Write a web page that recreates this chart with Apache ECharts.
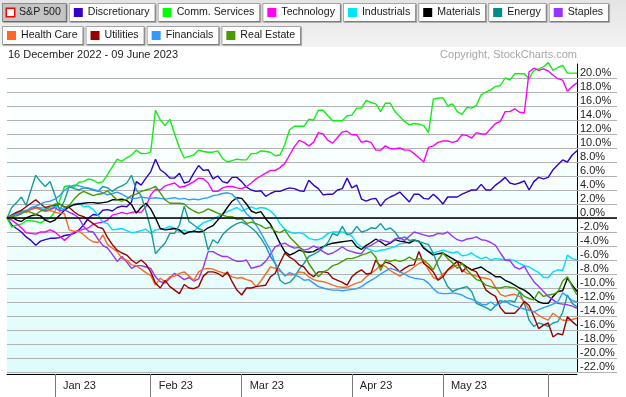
<!DOCTYPE html>
<html>
<head>
<meta charset="utf-8">
<script src="https://cdn.jsdelivr.net/npm/echarts@6/dist/echarts.min.js"></script>
<style>
  html, body { margin: 0; padding: 0; background: #fff; }
  #chart { width: 626px; height: 397px; }
</style>
</head>
<body>
<div id="chart"></div>
<script>
// trading days per month, 16 Dec 2022 - 09 Jun 2023
const dec22 = [16, 19, 20, 21, 22, 23, 27, 28, 29, 30];
const jan23 = [3, 4, 5, 6, 9, 10, 11, 12, 13, 17, 18, 19, 20, 23, 24, 25, 26, 27, 30, 31];
const feb23 = [1, 2, 3, 6, 7, 8, 9, 10, 13, 14, 15, 16, 17, 21, 22, 23, 24, 27, 28];
const mar23 = [1, 2, 3, 6, 7, 8, 9, 10, 13, 14, 15, 16, 17, 20, 21, 22, 23, 24, 27, 28, 29, 30, 31];
const apr23 = [3, 4, 5, 6, 10, 11, 12, 13, 14, 17, 18, 19, 20, 21, 24, 25, 26, 27, 28];
const may23 = [1, 2, 3, 4, 5, 8, 9, 10, 11, 12, 15, 16, 17, 18, 19, 22, 23, 24, 25, 26, 30, 31];
const jun23 = [1, 2, 5, 6, 7, 8, 9];
const monthShort = ['Jan', 'Feb', 'Mar', 'Apr', 'May', 'Jun', 'Jul', 'Aug', 'Sep', 'Oct', 'Nov', 'Dec'];

const yTicks = [-22, -20, -18, -16, -14, -12, -10, -8, -6, -4, -2, 0, 2, 4, 6, 8, 10, 12, 14, 16, 18, 20];

// % performance relative to the S&P 500 (benchmark = 0)
const spx = [
  0, 0, 0, 0, 0, 0, 0, 0, 0, 0, 0, 0, 0, 0, 0, 0, 0, 0, 0, 0,
  0, 0, 0, 0, 0, 0, 0, 0, 0, 0, 0, 0, 0, 0, 0, 0, 0, 0, 0, 0,
  0, 0, 0, 0, 0, 0, 0, 0, 0, 0, 0, 0, 0, 0, 0, 0, 0, 0, 0, 0,
  0, 0, 0, 0, 0, 0, 0, 0, 0, 0, 0, 0, 0, 0, 0, 0, 0, 0, 0, 0,
  0, 0, 0, 0, 0, 0, 0, 0, 0, 0, 0, 0, 0, 0, 0, 0, 0, 0, 0, 0,
  0, 0, 0, 0, 0, 0, 0, 0, 0, 0, 0, 0, 0, 0, 0, 0, 0, 0, 0, 0
];
const discr = [
  0, -1.0, -1.5, -2.0, -2.7, -3.2, -3.9, -3.3, -3.1, -2.9,
  -2.9, -2.8, -2.5, -2.4, -2.2, -1.7, -1.0, 0.0, 0.5, 0.4,
  1.1, 1.2, 1.0, 1.5, 1.7, 1.6, 2.3, 5.2, 4.7, 5.7,
  6.6, 8.4, 6.9, 6.4, 5.7, 5.7, 6.4, 5.0, 5.2, 6.4,
  7.5, 6.8, 6.9, 5.6, 6.0, 5.2, 5.0, 5.8, 5.8, 5.2,
  4.4, 4.0, 3.8, 3.9, 3.1, 3.5, 3.8, 3.8, 4.1, 4.3,
  4.2, 3.9, 3.8, 5.4, 4.7, 4.2, 3.3, 3.4, 3.4, 4.0,
  4.2, 5.7, 4.3, 4.7, 2.7, 2.4, 2.7, 2.8, 1.7, 2.6,
  3.0, 3.3, 3.7, 3.0, 2.3, 3.4, 3.4, 2.8, 2.7, 3.4,
  2.8, 2.0, 3.0, 3.0, 3.0, 3.4, 3.7, 4.0, 4.0, 4.8,
  4.0, 4.0, 4.7, 5.2, 5.8, 5.0, 4.8, 5.0, 5.3, 4.0,
  5.2, 5.8, 5.6, 5.8, 6.9, 7.6, 8.3, 8.0, 9.0, 9.6
];
const commSvc = [
  0, -1.3, -1.0, -0.9, -0.4, -0.4, -0.5, -0.7, -0.3, 0.0,
  0.9, 2.5, 4.5, 4.6, 4.4, 5.1, 5.2, 5.6, 5.4, 5.0,
  5.2, 6.2, 7.3, 8.4, 8.1, 8.6, 9.0, 9.7, 9.2, 9.2,
  9.4, 15.4, 14.0, 13.2, 14.1, 12.0, 10.0, 8.6, 8.8, 9.0,
  9.7, 9.5, 9.4, 9.4, 9.6, 8.5, 8.0, 8.2, 8.4, 8.3,
  8.3, 9.2, 9.2, 9.6, 9.5, 9.4, 8.9, 9.0, 10.5, 12.6,
  13.1, 13.1, 13.1, 14.1, 14.0, 15.4, 15.4, 14.6, 13.9, 13.9,
  13.9, 14.6, 14.7, 15.7, 15.7, 16.8, 16.5, 16.3, 15.2, 16.4,
  16.4, 15.2, 14.5, 13.8, 13.3, 13.5, 13.4, 13.2, 12.2, 17.0,
  17.1, 17.2, 16.0, 16.3, 15.2, 14.8, 15.8, 15.7, 16.1, 17.6,
  18.0, 18.3, 18.8, 18.9, 20.0, 19.7, 20.6, 20.6, 20.6, 19.9,
  21.1, 21.3, 21.6, 22.2, 21.1, 21.5, 21.8, 20.7, 20.7, 20.7
];
const tech = [
  0, -0.3, -0.8, -1.4, -2.1, -2.2, -2.3, -2.0, -2.0, -1.7,
  -2.0, -2.6, -3.2, -2.6, -2.0, -1.8, -1.6, -1.4, -0.9, -0.7,
  -0.6, -0.3, 0.4, 0.6, 0.8, 0.6, 0.8, 0.9, 0.8, 1.6,
  3.3, 4.1, 4.0, 4.6, 4.8, 5.0, 4.4, 4.5, 4.8, 5.2,
  5.7, 5.6, 5.0, 3.8, 3.8, 4.3, 4.5, 4.5, 4.3, 4.2,
  4.5, 5.0, 5.6, 6.0, 6.4, 6.8, 6.8, 7.2, 7.8, 9.0,
  10.2, 11.1, 10.8, 10.3, 10.8, 12.2, 12.0, 11.1, 10.7, 11.5,
  12.3, 12.4, 11.9, 11.9, 10.8, 11.0, 10.8, 9.7, 9.7, 10.3,
  9.9, 9.9, 10.0, 9.7, 9.7, 9.2, 8.6, 8.0, 10.1, 10.3,
  10.8, 11.0, 11.0, 10.8, 11.0, 11.9, 11.8, 11.4, 12.2, 12.0,
  12.0, 12.8, 13.5, 13.8, 15.2, 15.2, 15.6, 15.1, 15.0, 20.9,
  21.4, 21.1, 21.3, 21.0, 20.4, 19.9, 19.7, 18.1, 18.8, 19.3
];
const indus = [
  0, 0.4, 0.8, 1.0, 1.1, 1.3, 1.4, 1.5, 1.4, 1.3,
  1.7, 1.4, 1.3, 1.8, 2.0, 2.1, 1.6, 1.7, 1.2, 0.4,
  -0.6, -0.8, -1.7, -1.6, -1.5, -1.8, -2.1, -2.0, -1.8, -1.6,
  -2.2, -1.7, -1.6, -1.5, -1.2, -1.5, -2.0, -1.7, -2.1, -1.9,
  -1.2, -0.7, -0.4, -0.2, 0.2, 0.6, 0.9, 1.2, 1.5, 1.0,
  1.3, 1.6, 1.3, 1.5, 1.4, 1.0, 0.3, -0.8, -1.6, -2.0,
  -2.2, -2.1, -2.3, -2.9, -3.1, -3.1, -2.8, -2.2, -2.0, -2.0,
  -2.0, -2.2, -2.6, -3.6, -4.1, -4.3, -4.6, -4.8, -4.6, -4.5,
  -4.3, -4.1, -3.7, -3.6, -3.4, -3.1, -3.4, -4.1, -4.8, -5.0,
  -4.8, -4.6, -4.8, -5.0, -4.8, -5.4, -5.3, -5.0, -5.5, -5.8,
  -5.6, -6.0, -5.8, -5.9, -6.0, -5.9, -6.1, -6.5, -6.8, -7.0,
  -7.4, -7.8, -8.5, -8.5, -7.7, -7.4, -7.5, -5.3, -5.8, -6.0
];
const mater = [
  0, 0.2, -0.3, -0.5, 0.0, 0.3, 0.5, 0.3, -0.3, -0.6,
  -0.3, 0.4, 1.1, 1.6, 1.9, 2.0, 2.1, 2.2, 2.2, 2.1,
  2.2, 2.3, 2.6, 2.6, 2.7, 2.5, 1.9, 0.7, 1.5, 2.1,
  1.3, 0.0, -1.5, -1.7, -1.6, -1.5, -1.7, -2.3, -2.0, -1.9,
  -2.0, -1.9, -1.4, -1.1, -0.3, 0.5, 1.5, 2.4, 2.9, 2.8,
  2.0, 1.0, 0.7, 0.9, -0.1, -0.9, -2.2, -3.6, -4.8, -5.3,
  -5.0, -4.6, -4.8, -4.9, -4.8, -4.4, -4.1, -3.8, -3.6, -3.5,
  -3.4, -3.3, -3.2, -4.1, -4.5, -3.9, -3.5, -3.0, -3.4, -3.9,
  -3.6, -3.1, -3.3, -3.4, -3.6, -3.2, -3.3, -4.3, -4.8, -5.3,
  -5.1, -5.0, -5.4, -5.8, -6.2, -6.5, -7.0, -7.4, -7.2, -7.0,
  -7.5, -7.9, -8.4, -8.4, -8.9, -9.2, -9.6, -10.0, -10.3, -10.8,
  -11.5, -12.0, -12.2, -12.2, -11.2, -10.5, -10.4, -8.6, -9.6, -10.5
];
const energy = [
  0, 1.5, 2.2, 3.0, 1.8, 4.0, 6.1, 5.2, 4.5, 5.2,
  3.3, 1.1, 2.5, 4.5, 4.2, 4.0, 4.3, 4.2, 4.0, 3.8,
  4.5, 4.3, 3.8, 4.3, 4.6, 5.0, 6.1, 4.0, 3.2, 1.0,
  -1.5, -5.1, -4.3, -3.6, -2.2, -2.2, -1.0, 1.7, -0.5, -1.0,
  -1.5, -1.8, -4.6, -3.1, -3.6, -2.4, -1.7, -1.2, -0.8, -0.6,
  -0.9, -1.4, -2.0, -2.9, -4.0, -5.5, -6.5, -8.9, -9.4, -9.2,
  -8.5, -7.3, -6.5, -5.5, -5.2, -4.8, -4.2, -3.5, -2.2, -2.5,
  -1.2, -2.4, -2.2, -1.2, -2.0, -1.8, -1.4, -1.5, -0.8, -1.7,
  -1.4, -2.0, -3.0, -2.7, -3.2, -3.1, -3.4, -3.6, -3.8, -5.0,
  -6.9, -8.4, -9.8, -10.5, -10.2, -10.0, -9.8, -10.5, -12.2, -12.5,
  -12.8, -13.2, -12.5, -11.8, -12.0, -11.8, -12.0, -10.5, -12.2, -14.6,
  -15.5, -15.0, -15.2, -15.5, -15.0, -14.8, -13.5, -11.0, -12.2, -12.7
];
const staples = [
  0, 0.3, 0.5, 0.8, 1.0, 1.3, 1.6, 1.3, 1.0, 1.2,
  1.5, 1.0, 1.2, 0.8, 0.5, 0.0, -1.2, -1.9, -2.0, -3.0,
  -3.9, -4.3, -5.2, -6.2, -5.5, -6.3, -7.2, -6.8, -6.8, -7.0,
  -7.2, -8.4, -9.1, -9.3, -8.6, -7.9, -8.3, -8.8, -8.5, -9.0,
  -8.7, -7.0, -4.8, -4.8, -5.2, -5.5, -5.5, -5.9, -6.2, -6.2,
  -6.0, -7.2, -7.0, -6.8, -6.2, -5.2, -4.1, -3.8, -3.6, -4.0,
  -4.3, -4.2, -4.6, -4.4, -4.0, -4.3, -4.8, -5.2, -5.0, -4.6,
  -4.1, -4.6, -4.8, -5.0, -5.1, -4.2, -3.9, -3.5, -3.1, -3.3,
  -3.5, -3.0, -2.8, -3.2, -2.6, -2.0, -2.2, -2.4, -2.6, -2.5,
  -2.2, -2.3, -2.0, -2.6, -3.1, -3.3, -3.0, -2.9, -2.7, -3.1,
  -3.2, -3.5, -3.9, -5.0, -6.0, -6.1, -7.0, -7.3, -6.9, -8.1,
  -9.1, -9.8, -10.5, -11.2, -11.7, -12.2, -12.3, -12.4, -12.6, -12.9
];
const health = [
  0, 0.4, 0.7, 1.0, 0.8, 1.2, 1.4, 1.2, 0.9, 1.1,
  0.8, 0.7, 0.6, -1.7, -1.9, -1.9, -2.4, -3.0, -3.4, -3.5,
  -2.4, -3.8, -4.3, -4.8, -5.8, -6.0, -6.7, -6.8, -7.3, -7.8,
  -8.2, -9.6, -8.6, -9.1, -8.4, -8.3, -7.9, -7.7, -8.3, -8.9,
  -7.7, -7.3, -7.2, -7.3, -7.6, -7.8, -8.0, -8.4, -8.6, -8.5,
  -8.8, -9.0, -9.8, -9.0, -8.0, -7.0, -7.2, -7.6, -8.1, -8.1,
  -8.1, -7.7, -7.8, -8.4, -8.8, -9.0, -9.1, -9.3, -9.6, -9.8,
  -9.9, -9.9, -9.6, -9.3, -9.1, -8.4, -7.9, -7.4, -6.7, -6.9,
  -7.5, -7.9, -8.3, -7.9, -7.5, -7.0, -6.5, -6.2, -7.4, -8.5,
  -8.8, -8.0, -7.5, -7.1, -6.7, -7.4, -7.9, -8.1, -8.3, -8.5,
  -8.6, -8.8, -9.9, -10.9, -11.2, -11.0, -10.9, -11.2, -12.0, -13.1,
  -13.4, -13.9, -14.3, -14.6, -13.6, -14.1, -14.6, -14.6, -14.5, -14.3
];
const util = [
  0, 0.4, 0.8, 1.1, 1.6, 2.1, 2.6, 2.0, 1.5, 1.7,
  1.8, 2.0, 1.6, 1.5, 0.9, 0.4, 0.2, -0.3, -0.8, -1.3,
  -1.5, -2.8, -3.8, -4.6, -5.0, -5.3, -6.0, -6.5, -6.0, -6.6,
  -7.7, -9.3, -10.0, -8.9, -9.8, -10.3, -10.8, -9.5, -10.0, -10.1,
  -9.8, -8.3, -7.7, -7.7, -7.9, -8.4, -7.7, -9.1, -10.3, -11.0,
  -10.0, -10.0, -9.8, -9.7, -9.6, -8.4, -7.9, -6.4, -5.0, -5.6,
  -6.0, -6.7, -7.0, -7.9, -8.4, -7.7, -7.7, -7.8, -8.6, -8.9,
  -9.2, -9.6, -8.4, -7.8, -7.4, -8.0, -7.9, -6.0, -7.0, -6.3,
  -6.5, -7.0, -7.7, -7.2, -6.8, -6.7, -4.8, -6.5, -7.0, -7.7,
  -8.9, -8.4, -7.4, -6.8, -6.2, -7.7, -7.0, -7.4, -7.7, -8.9,
  -10.3, -10.8, -11.2, -12.8, -13.6, -13.6, -13.6, -12.9, -11.9, -12.5,
  -14.1, -15.8, -15.3, -15.0, -17.0, -16.5, -16.7, -14.1, -14.8, -15.4
];
const fin = [
  0, 0.3, 0.6, 0.8, 1.0, 1.5, 1.7, 2.0, 2.3, 2.4,
  2.7, 3.2, 4.0, 4.4, 4.7, 4.6, 4.4, 4.3, 4.1, 3.9,
  3.6, 3.3, 3.5, 3.7, 3.4, 3.0, 2.8, 2.8, 3.0, 2.9,
  2.8, 2.9, 2.8, 2.7, 2.8, 2.9, 2.7, 2.8, 2.6, 2.7,
  2.6, 2.8, 2.9, 3.2, 3.3, 3.5, 3.6, 3.4, 2.7, 1.7,
  0.6, 0.0, -1.0, -2.1, -3.4, -4.6, -6.5, -7.4, -8.3, -7.8,
  -8.1, -8.4, -8.9, -8.8, -9.3, -9.8, -10.0, -10.2, -10.3, -10.3,
  -10.4, -10.3, -10.2, -10.1, -9.8, -9.3, -8.9, -8.5, -8.0, -7.6,
  -7.2, -7.4, -7.7, -8.0, -8.4, -8.6, -8.7, -8.8, -9.3, -10.1,
  -10.7, -10.8, -10.8, -10.7, -10.8, -11.0, -11.4, -11.6, -11.9, -12.3,
  -12.4, -12.0, -12.5, -12.2, -11.8, -12.3, -12.6, -12.8, -13.0, -13.2,
  -13.4, -13.1, -12.8, -12.6, -12.3, -12.0, -10.7, -11.2, -11.8, -12.0
];
const realEst = [
  0, 0.2, 0.3, 0.6, 1.0, 0.8, 0.5, 1.0, 1.2, 1.6,
  2.0, 2.0, 1.5, 1.8, 2.7, 3.4, 3.8, 3.5, 3.2, 3.4,
  3.5, 3.9, 3.2, 2.6, 2.4, 2.7, 3.2, 3.4, 3.8, 4.0,
  4.2, 4.5, 3.6, 2.6, 2.1, 2.1, 2.1, 2.0, 1.4, 1.0,
  0.7, 0.9, 1.3, 1.0, 0.7, 0.4, 0.2, 0.2, -0.2, -0.1,
  -0.8, -0.6, -0.8, -1.1, -1.5, -1.3, -1.9, -2.1, -1.7, -2.7,
  -3.4, -4.1, -5.0, -6.5, -7.5, -8.4, -7.7, -7.4, -6.8, -6.6,
  -6.2, -5.8, -5.8, -5.6, -5.3, -5.1, -4.8, -5.6, -7.5, -6.0,
  -6.2, -6.0, -6.2, -6.0, -5.6, -6.0, -5.8, -6.0, -6.6, -7.4,
  -6.0, -5.0, -5.8, -6.4, -7.2, -6.5, -7.4, -8.1, -8.8, -9.0,
  -9.6, -9.8, -10.0, -10.0, -9.8, -9.9, -10.0, -10.5, -11.2, -11.5,
  -11.7, -10.5, -11.2, -11.0, -10.9, -10.6, -9.0, -8.4, -9.8, -11.0
];

const seriesNames = ['Discretionary', 'Comm. Services', 'Technology', 'Industrials', 'Materials', 'Energy',
  'Staples', 'Health Care', 'Utilities', 'Financials', 'Real Estate'];
const seriesData = [discr, commSvc, tech, indus, mater, energy, staples, health, util, fin, realEst];
const lineColors = ['#3300cc', '#11ee11', '#ff00ff', '#00ddff', '#000000', '#1a9a9a',
  '#9933ff', '#ff6622', '#990000', '#3399ff', '#4d9900'];
const swatchColors = ['#3300cc', '#00ff00', '#ff00ff', '#00e5ff', '#000000', '#008b8b',
  '#9933ff', '#ff6622', '#990000', '#3399ff', '#4d9900'];

const FONT = '"Liberation Sans", Arial, sans-serif';

// build category dates
const dates = [];
[[2022, 12, dec22], [2023, 1, jan23], [2023, 2, feb23], [2023, 3, mar23],
 [2023, 4, apr23], [2023, 5, may23], [2023, 6, jun23]].forEach(([y, m, days]) => {
  days.forEach(d => dates.push(y + '-' + String(m).padStart(2, '0') + '-' + String(d).padStart(2, '0')));
});
const monthStart = dates.map((d, i) => i > 0 && d.slice(5, 7) !== dates[i - 1].slice(5, 7));

const splitColors = [];
for (let v = -22; v <= 22; v += 2) splitColors.push(v === 22 ? 'rgba(0,0,0,0)' : '#b2b2b2');

// legend buttons
const allNames = ['S&P 500'].concat(seriesNames);
const rich = { t: { fontSize: 10.6, fontFamily: FONT, color: '#1a1a1a', padding: [0, 0, 0, 5], lineHeight: 13 } };
rich.s0 = { width: 7, height: 7, backgroundColor: '#ffffff', borderColor: '#ff0000', borderWidth: 1.5 };
swatchColors.forEach((c, k) => { rich['s' + (k + 1)] = { width: 9, height: 9, backgroundColor: c }; });

const legendBase = {
  orient: 'horizontal', padding: 0, itemGap: -2, itemWidth: 0, itemHeight: 0, icon: 'none',
  selectedMode: false, left: -2, width: 660,
  formatter: name => '{s' + allNames.indexOf(name) + '|}{t|' + name + '}',
  textStyle: {
    fontSize: 10.6, fontFamily: FONT, color: '#1a1a1a',
    backgroundColor: '#fdfdfd', borderColor: '#a4a4a4', borderWidth: 1,
    padding: [2, 5, 2, 4], shadowColor: 'rgba(0,0,0,0.25)', shadowOffsetX: 1, shadowOffsetY: 1,
    rich: rich
  }
};
const row1 = allNames.slice(0, 8).map((n, i) => i === 0
  ? { name: n, textStyle: { backgroundColor: '#c4c4c4', borderColor: '#8a8a8a' } }
  : { name: n });
const row2 = allNames.slice(8).map(n => ({ name: n }));

const series = seriesNames.map((n, k) => ({
  name: n, type: 'line', data: seriesData[k], symbol: 'none', showSymbol: false,
  clip: false, animation: false,
  lineStyle: { width: 1.4, color: lineColors[k] }, itemStyle: { color: lineColors[k] }
}));
series.push({
  name: 'S&P 500', type: 'line', data: spx, symbol: 'none', showSymbol: false, z: 3,
  animation: false, lineStyle: { width: 1.5, color: '#000' }, itemStyle: { color: '#000' }
});

const chart = echarts.init(document.getElementById('chart'));
chart.setOption({
  animation: false,
  backgroundColor: '#ffffff',
  textStyle: { fontFamily: FONT },
  graphic: [
    { id: 'head', type: 'rect', z: -10, shape: { x: 0, y: 0, width: 626, height: 47 },
      style: { fill: new echarts.graphic.LinearGradient(0, 0, 0, 1, [
        { offset: 0, color: '#e4e4e4' }, { offset: 1, color: '#f3f3f3' }]) } },
    { id: 'plotbg', type: 'rect', z: -10, shape: { x: 7, y: 58, width: 570, height: 316 },
      style: { fill: new echarts.graphic.LinearGradient(0, 0, 0, 1, [
        { offset: 0, color: '#ffffff' }, { offset: 0.35, color: '#f7ffff' }, { offset: 1, color: '#dcfcfc' }]) } }
  ],
  title: [
    { text: '16 December 2022 - 09 June 2023', left: 8, top: 49, padding: 0,
      textStyle: { fontSize: 11, fontWeight: 'normal', color: '#222', fontFamily: FONT } },
    { text: 'Copyright, StockCharts.com', right: 49, top: 49, padding: 0,
      textStyle: { fontSize: 11, fontWeight: 'normal', color: '#a6a6a6', fontFamily: FONT } }
  ],
  legend: [
    Object.assign({}, legendBase, { top: 3, data: row1 }),
    Object.assign({}, legendBase, { top: 26, data: row2 })
  ],
  grid: { left: 7, right: 49, top: 64, bottom: 25 },
  xAxis: {
    type: 'category', data: dates, boundaryGap: false, offset: 2,
    axisLine: { show: true, onZero: false, lineStyle: { color: '#000', width: 1 } },
    axisTick: { show: true, length: 23, interval: i => monthStart[i], lineStyle: { color: '#7a7a7a' } },
    axisLabel: {
      show: true, interval: i => monthStart[i] && dates[i].slice(5, 7) !== '06',
      formatter: v => monthShort[+v.slice(5, 7) - 1] + ' ' + v.slice(2, 4),
      align: 'left', margin: 6, padding: [0, 0, 0, 8], fontSize: 11, color: '#222', fontFamily: FONT
    },
    splitLine: { show: false }
  },
  yAxis: {
    type: 'value', position: 'right', min: -22, max: 22, interval: 2,
    axisLine: { show: true, lineStyle: { color: '#000', width: 1 } },
    axisTick: { show: true, length: 40, customValues: yTicks, lineStyle: { color: '#b2b2b2' } },
    axisLabel: {
      show: true, customValues: yTicks, margin: 3, verticalAlign: 'bottom',
      fontSize: 11, color: '#222', fontFamily: FONT, formatter: v => v.toFixed(1) + '%'
    },
    splitLine: { show: true, lineStyle: { color: splitColors, width: 1 } }
  },
  series: series
});

// benchmark level continues across the tick column at the right
const y0 = chart.convertToPixel({ yAxisIndex: 0 }, 0);
const xEnd = chart.convertToPixel({ xAxisIndex: 0 }, dates[dates.length - 1]);
chart.setOption({
  graphic: [{ id: 'zeroTick', type: 'line', z: 5,
    shape: { x1: xEnd, y1: y0, x2: xEnd + 40, y2: y0 },
    style: { stroke: '#000', lineWidth: 1.5 } }]
});
</script>
</body>
</html>
